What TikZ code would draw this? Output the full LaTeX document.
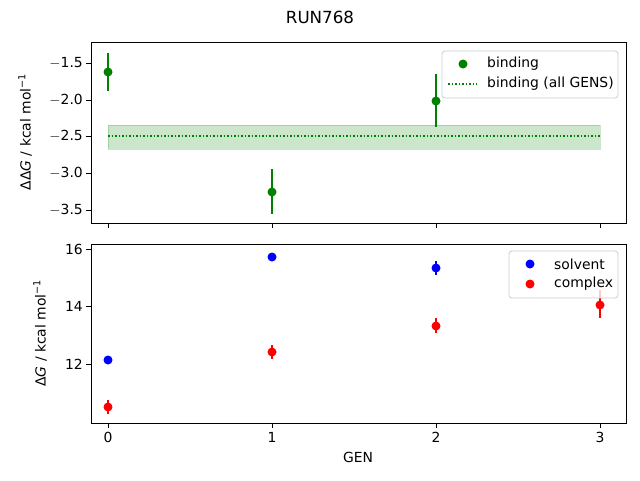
\documentclass[tikz,border=0pt]{standalone}
\usepackage{fontspec}
\setmainfont{DejaVu Sans}
\definecolor{mgreen}{HTML}{008000}
\definecolor{legedge}{HTML}{CCCCCC}
\begin{document}
\begin{tikzpicture}[x=1pt,y=-1pt,
  frame/.style={draw=black,line width=0.8pt},
  tick/.style={line width=0.8pt},
  lbl/.style={font=\fontsize{13.9}{16}\selectfont,inner sep=0pt},
  pt/.style={fill=#1,draw=none},
  errbar/.style={draw=#1,line width=1.5pt},
  legbox/.style={draw=legedge,fill=white,fill opacity=0.8,rounded corners=3pt,line width=0.8pt}]
\useasboundingbox (0,0) rectangle (640,480);
% title
\node[lbl,font=\fontsize{16.7}{19}\selectfont] (title) at (320,17) {RUN768};
%
% upper panel
\coordinate (tl) at (91,42);
\coordinate (tr) at (626,223);
\fill[mgreen,fill opacity=0.2] (108,125) rectangle (600,149);
\draw[mgreen,opacity=0.2] (108,125) rectangle (600,149);
\draw[mgreen,line width=1.5pt,dotted] (108,136) -- (600,136);
\foreach \x/\y/\lo/\hi in {108/72/53/91, 272/192/169/214, 436/101/74/127}{
  \draw[errbar=mgreen] (\x,\lo) -- (\x,\hi);
  \fill[pt=mgreen] (\x,\y) circle (4.5);
}
\draw[frame] (tl) rectangle (tr);
\foreach \y/\t in {63/$-$1.5,100/$-$2.0,136/$-$2.5,173/$-$3.0,210/$-$3.5}{
  \draw[tick] (91,\y) -- (86,\y);
  \node[lbl,anchor=east] at (83,\y) {\t};
}
\foreach \x in {108,272,436,600}
  \draw[tick] (\x,223) -- (\x,228);
\node[lbl,rotate=90] (ylabtop) at (25,132) {ΔΔ\textit{G} / kcal mol\textsuperscript{−1}};
% upper legend
\draw[legbox] (442,51) rectangle (618,98);
\fill[pt=mgreen] (463,64) circle (4.5);
\node[lbl,anchor=west] (legbind) at (487,64) {binding};
\draw[mgreen,line width=1.5pt,dotted] (448,84) -- (477,84);
\node[lbl,anchor=west] (legall) at (487,84) {binding (all GENS)};
%
% lower panel
\coordinate (bl) at (91,244);
\coordinate (br) at (626,423);
\foreach \x/\y/\lo/\hi in {108/360/357/363, 272/257/253/261, 436/268/261/275}{
  \draw[errbar=blue] (\x,\lo) -- (\x,\hi);
  \fill[pt=blue] (\x,\y) circle (4.5);
}
\foreach \x/\y/\lo/\hi in {108/407/400/414, 272/352/345/359, 436/326/318/333, 600/305/290/318}{
  \draw[errbar=red] (\x,\lo) -- (\x,\hi);
  \fill[pt=red] (\x,\y) circle (4.5);
}
\draw[frame] (bl) rectangle (br);
\foreach \y/\t in {249/16,306/14,364/12}{
  \draw[tick] (91,\y) -- (86,\y);
  \node[lbl,anchor=east] at (83,\y) {\t};
}
\foreach \x/\t in {108/0,272/1,436/2,600/3}{
  \draw[tick] (\x,423) -- (\x,428);
  \node[lbl,anchor=north] at (\x,432) {\t};
}
\node[lbl] (xlab) at (358,457) {GEN};
\node[lbl,rotate=90] (ylabbot) at (40,333) {Δ\textit{G} / kcal mol\textsuperscript{−1}};
% lower legend
\draw[legbox] (509,251) rectangle (618,298);
\fill[pt=blue] (530,264) circle (4.5);
\node[lbl,anchor=west] (legsolv) at (554,264) {solvent};
\fill[pt=red] (530,284) circle (4.5);
\node[lbl,anchor=west] (legcomp) at (554,284) {complex};
\end{tikzpicture}
\end{document}
